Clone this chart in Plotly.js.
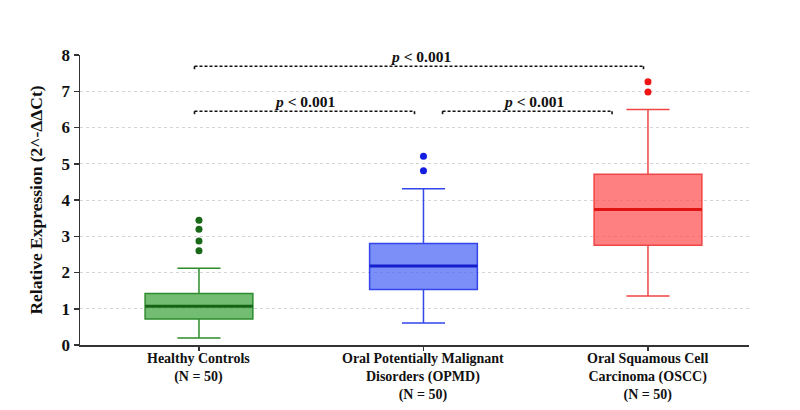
<!DOCTYPE html>
<html>
<head>
<meta charset="utf-8">
<script src="https://cdn.plot.ly/plotly-3.0.1.min.js"></script>
<style>html,body{margin:0;padding:0;background:#fff;}#chart{width:800px;height:410px;}</style>
</head>
<body>
<div id="chart"></div>
<script>
// ---- data ----
const categories = ["Healthy Controls<br>(N = 50)", "Oral Potentially Malignant<br>Disorders (OPMD)<br>(N = 50)", "Oral Squamous Cell<br>Carcinoma (OSCC)<br>(N = 50)"];
const lowerWhisker = [0.19, 0.61, 1.35];
const q1Values = [0.72, 1.53, 2.75];
const medianValues = [1.07, 2.18, 3.74];
const q3Values = [1.42, 2.80, 4.71];
const upperWhisker = [2.12, 4.31, 6.50];
const outliersHC = [2.60, 2.87, 3.19, 3.44];
const outliersOPMD = [4.81, 5.21];
const outliersOSCC = [6.98, 7.26];
const pLabels = ["<i>p</i> < 0.001", "<i>p</i> < 0.001", "<i>p</i> < 0.001"];

// ---- styles ----
const fills = ["rgba(76,170,76,0.78)", "rgba(80,105,245,0.75)", "rgba(255,85,85,0.75)"];
const lines = ["rgb(45,140,45)", "rgb(50,70,235)", "rgb(240,70,70)"];
const medCols = ["rgb(20,100,20)", "rgb(20,30,205)", "rgb(225,20,20)"];
const outCols = ["rgb(25,105,25)", "rgb(20,30,225)", "rgb(240,20,20)"];
const outliers = [outliersHC, outliersOPMD, outliersOSCC];
const boxW = 0.48;
const font = "Liberation Serif, Times New Roman, serif";

const traces = [];
for (let i = 0; i < 3; i++) {
  traces.push({
    type: "box", x: [i], q1: [q1Values[i]], median: [medianValues[i]], q3: [q3Values[i]],
    lowerfence: [lowerWhisker[i]], upperfence: [upperWhisker[i]],
    width: boxW, whiskerwidth: 0.4, fillcolor: fills[i],
    line: {color: lines[i], width: 1.5}, boxpoints: false, hoverinfo: "skip", showlegend: false
  });
  traces.push({
    type: "scatter", mode: "lines", x: [i - boxW / 2, i + boxW / 2], y: [medianValues[i], medianValues[i]],
    line: {color: medCols[i], width: 3}, hoverinfo: "skip", showlegend: false
  });
  traces.push({
    type: "scatter", mode: "markers", x: outliers[i].map(() => i), y: outliers[i],
    marker: {color: outCols[i], size: 7}, hoverinfo: "skip", showlegend: false
  });
}

// significance brackets
const brackets = [
  {x0: -0.02, x1: 1.98, y: 7.69, label: pLabels[0], tx: 0.985, ty: 7.96},
  {x0: -0.02, x1: 0.96, y: 6.45, label: pLabels[1], tx: 0.47, ty: 6.72},
  {x0: 1.085, x1: 1.84, y: 6.45, label: pLabels[2], tx: 1.49, ty: 6.72}
];
const shapes = [];
const annotations = [];
brackets.forEach(b => {
  const ln = {color: "#111", width: 1.6, dash: "3px,2px"};
  shapes.push({type: "line", xref: "x", yref: "y", x0: b.x0, x1: b.x1, y0: b.y, y1: b.y, line: ln});
  shapes.push({type: "line", xref: "x", yref: "y", x0: b.x0, x1: b.x0, y0: b.y, y1: b.y - 0.13, line: ln});
  shapes.push({type: "line", xref: "x", yref: "y", x0: b.x1, x1: b.x1, y0: b.y, y1: b.y - 0.13, line: ln});
  annotations.push({x: b.tx, y: b.ty, xref: "x", yref: "y", text: b.label, showarrow: false,
    font: {family: font, size: 15.5, color: "#111", weight: "bold"}});
});
// category labels under the axis
categories.forEach((c, i) => {
  annotations.push({x: i, y: 0, xref: "x", yref: "paper", yanchor: "top", yshift: -4, text: c,
    showarrow: false, align: "center", font: {family: font, size: 14, color: "#111", weight: "bold"}});
});

const layout = {
  width: 800, height: 410,
  margin: {l: 80, r: 51, t: 55, b: 65},
  paper_bgcolor: "#fff", plot_bgcolor: "#fff",
  showlegend: false,
  xaxis: {
    range: [-0.53, 2.45], tickvals: [0, 1, 2], showticklabels: false,
    showgrid: false, zeroline: false, showline: true, linecolor: "#333", linewidth: 1.5,
    ticks: "outside", ticklen: 4, tickcolor: "#333", tickwidth: 1.5
  },
  yaxis: {
    range: [0, 8], dtick: 1, showgrid: true, gridcolor: "#d4d4d4", griddash: "dot", gridwidth: 1,
    zeroline: false, showline: true, linecolor: "#333", linewidth: 1.5,
    ticks: "outside", ticklen: 5, tickcolor: "#333", tickwidth: 1.5,
    tickfont: {family: font, size: 17, color: "#111", weight: "bold"},
    title: {text: "Relative Expression (2^-ΔΔCt)", font: {family: font, size: 17.5, color: "#111", weight: "bold"}, standoff: 14}
  },
  shapes: shapes, annotations: annotations
};

Plotly.newPlot("chart", traces, layout, {displayModeBar: false, staticPlot: true});
</script>
</body>
</html>
